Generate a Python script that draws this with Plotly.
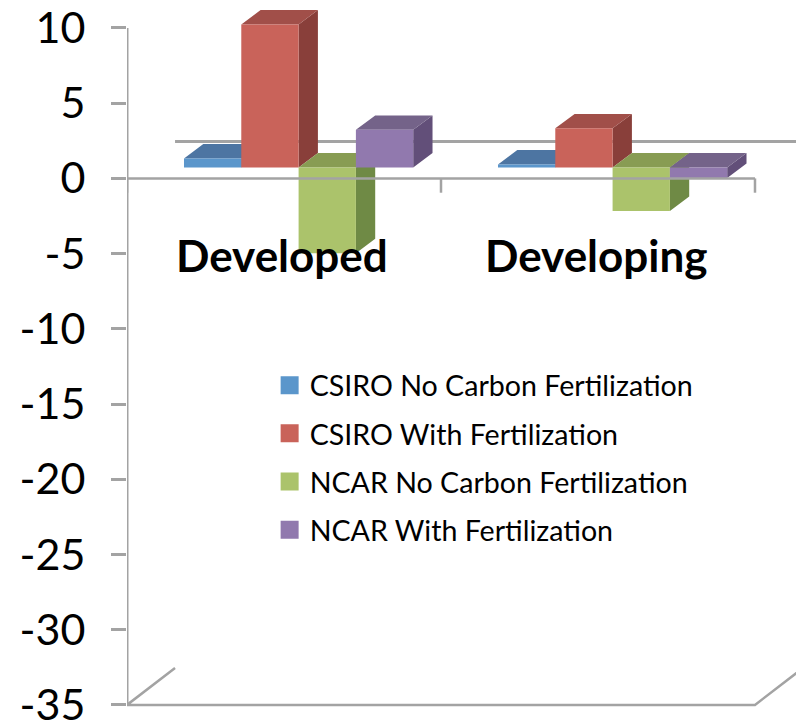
import plotly.graph_objects as go

# data
categories = ["Developed", "Developing"]
series_names = ["CSIRO No Carbon Fertilization", "CSIRO With Fertilization",
                "NCAR No Carbon Fertilization", "NCAR With Fertilization"]
csiro_no_fert = [0.6, 0.2]
csiro_fert = [9.5, 2.6]
ncar_no_fert = [-5.7, -2.9]
ncar_fert = [2.5, -0.7]
series_values = [csiro_no_fert, csiro_fert, ncar_no_fert, ncar_fert]
y_ticks = [10, 5, 0, -5, -10, -15, -20, -25, -30, -35]

front_colors = ["#5B96CB", "#C9635A", "#ABC36B", "#9179AE"]
top_colors = ["#4D75A2", "#A14F49", "#889C53", "#746389"]
side_colors = ["#3E5F85", "#893F3A", "#6F8A45", "#624F79"]
axis_color = "#A3A3A3"

# fake 3d geometry, in axis units
base = 0.73
bar_w = 0.1825
bar_start = 0.1815
depth_x = 0.0615
depth_y = 0.96
floor_x = 0.153
floor_y = 2.46


def add_poly(fig, xs, ys, color, name):
    fig.add_trace(go.Scatter(
        x=xs, y=ys, mode="lines", fill="toself", fillcolor=color,
        line=dict(width=0), showlegend=False, name=name, hoverinfo="skip"
    ))


def add_axis_line(fig, xs, ys, width):
    fig.add_trace(go.Scatter(
        x=xs, y=ys, mode="lines", line=dict(color=axis_color, width=width),
        showlegend=False, hoverinfo="skip"
    ))


fig = go.Figure()

# back wall zero line sits behind the bars
add_axis_line(fig, [floor_x, 2 + floor_x], [floor_y, floor_y], 3)
# floor, its diagonals and the value axis
add_axis_line(fig, [floor_x, 0, 2, 2 + floor_x],
              [-35 + floor_y, -35, -35, -35 + floor_y], 2.5)
add_axis_line(fig, [0, 0], [y_ticks[-1], y_ticks[0]], 3)

for k, name in enumerate(series_names):
    vals = series_values[k]
    xs = [i + bar_start + bar_w * (k + 0.5) for i in range(len(categories))]
    top_x, top_y, side_x, side_y, front_x, front_y = [], [], [], [], [], []
    for x, v in zip(xs, vals):
        left, right = x - bar_w / 2, x + bar_w / 2
        upper = max(base, base + v)
        lower = min(base, base + v)
        front_x += [left, right, right, left, left, None]
        front_y += [upper, upper, lower, lower, upper, None]
        top_x += [left, right, right + depth_x, left + depth_x, left, None]
        top_y += [upper, upper, upper + depth_y, upper + depth_y, upper, None]
        side_x += [right, right + depth_x, right + depth_x, right, right, None]
        side_y += [upper, upper + depth_y, lower + depth_y, lower, upper, None]
    add_poly(fig, side_x, side_y, side_colors[k], name)
    add_poly(fig, top_x, top_y, top_colors[k], name)
    add_poly(fig, front_x, front_y, front_colors[k], name)
    # legend entry only, bar swatches in the legend are too small
    fig.add_trace(go.Scatter(
        x=[None], y=[None], mode="markers", name=name, legendgroup=name,
        marker=dict(symbol="square", size=16, color=front_colors[k],
                    line=dict(color=front_colors[k], width=2))
    ))

# front zero line and category ticks, on top of the bars
tick_x, tick_y = [0, 2, None], [0, 0, None]
for i in range(len(categories) + 1):
    tick_x += [i, i, None]
    tick_y += [0, -0.95, None]
add_axis_line(fig, tick_x, tick_y, 2.5)

for i, cat in enumerate(categories):
    fig.add_annotation(
        x=i + 0.495, y=-5.1, text=f"<b>{cat}</b>", showarrow=False,
        font=dict(family="Lato", size=44, color="black")
    )

fig.update_layout(
    width=796, height=726,
    margin=dict(l=127, r=0, t=0, b=0),
    paper_bgcolor="white", plot_bgcolor="white",
    font=dict(family="Lato", color="black"),
    legend=dict(
        x=0.2132, y=0.504, xanchor="left", yanchor="top",
        font=dict(size=28.6), tracegroupgap=8, bgcolor="rgba(0,0,0,0)",
        traceorder="grouped"
    ),
    xaxis=dict(
        range=[0, 2.1306], showgrid=False, zeroline=False, showticklabels=False,
        ticks="", showline=False
    ),
    yaxis=dict(
        range=[-36.4, 11.86], tickvals=y_ticks, ticktext=[str(t) for t in y_ticks],
        showgrid=False, zeroline=False, showline=False,
        ticks="outside", tickcolor=axis_color, tickwidth=2.5, ticklen=15,
        tickfont=dict(size=43, color="black"), ticklabelstandoff=17,
        ticklabeloverflow="allow", automargin=False
    )
)

fig.write_html("out.html", config={"displayModeBar": False},
               post_script="document.body.style.margin='0';")
